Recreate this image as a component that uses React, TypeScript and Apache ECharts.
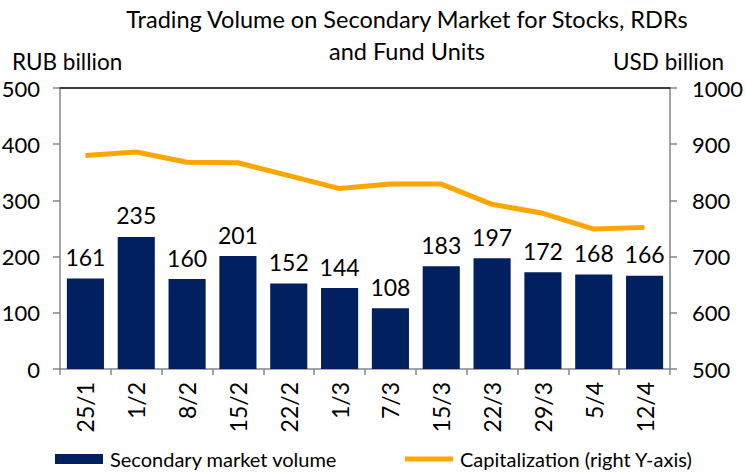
import React, { useEffect, useRef } from "react";
import * as echarts from "echarts";

const categories = ["25/1", "1/2", "8/2", "15/2", "22/2", "1/3", "7/3", "15/3", "22/3", "29/3", "5/4", "12/4"];
const volume = [161, 235, 160, 201, 152, 144, 108, 183, 197, 172, 168, 166];
const capitalization = [880, 886, 868, 867, 844, 821, 829, 829, 793, 777, 749, 752];
const titleText = "Trading Volume on Secondary Market for Stocks, RDRs\nand Fund Units";
const leftUnit = "RUB billion";
const rightUnit = "USD billion";
const volumeName = "Secondary market volume";
const capName = "Capitalization (right Y-axis)";

const FONT = "Lato, 'Open Sans', sans-serif";
const NAVY = "#002060";
const ORANGE = "#FFA500";
const AXIS = "#868686";
const FS = 23;
const AXFS = 22;

export default function App() {
  const ref = useRef<HTMLDivElement>(null);
  useEffect(() => {
    if (!ref.current) return;
    const chart = echarts.init(ref.current, undefined, { renderer: "svg" });
    chart.setOption({
      animation: false,
      backgroundColor: "#ffffff",
      textStyle: { fontFamily: FONT, color: "#000" },
      title: {
        text: titleText,
        left: 407,
        top: 3,
        padding: 0,
        textAlign: "center",
        textStyle: { fontFamily: FONT, fontSize: 23.5, fontWeight: "normal", color: "#000", lineHeight: 32 },
      },
      graphic: [
        { type: "text", left: 12, top: 50, style: { text: leftUnit, fontFamily: FONT, fontSize: 22.5, fill: "#000" } },
        { type: "text", left: 613, top: 50, style: { text: rightUnit, fontFamily: FONT, fontSize: 22.5, fill: "#000" } },
      ],
      legend: [
        {
          data: [{ name: volumeName, icon: "rect" }],
          left: 55,
          top: 449,
          padding: 0,
          itemWidth: 48,
          itemHeight: 10,
          textStyle: { fontFamily: FONT, fontSize: 20, color: "#000", padding: [0, 0, 0, 2] },
        },
        {
          data: [{ name: capName, icon: "rect" }],
          left: 405,
          top: 449,
          padding: 0,
          itemWidth: 48,
          itemHeight: 5,
          textStyle: { fontFamily: FONT, fontSize: 20, color: "#000", padding: [0, 0, 0, 2] },
        },
      ],
      grid: { left: 60, right: 76, top: 88, bottom: 105, containLabel: false, outerBoundsMode: "none" },
      xAxis: [
        {
          type: "category",
          data: categories,
          axisLine: { lineStyle: { color: AXIS, width: 1.5 } },
          axisTick: { show: true, length: 6, lineStyle: { color: AXIS, width: 1.5 } },
          axisLabel: { rotate: 90, fontFamily: FONT, fontSize: FS, color: "#000", margin: 13 },
        },
        {
          type: "category",
          data: categories,
          position: "top",
          axisLine: { lineStyle: { color: "#000", width: 1.5 } },
          axisTick: { show: false },
          axisLabel: { show: false },
        },
      ],
      yAxis: [
        {
          type: "value",
          min: 0,
          max: 500,
          interval: 100,
          splitLine: { show: false },
          axisLine: { show: true, lineStyle: { color: AXIS, width: 1.5 } },
          axisTick: { show: true, length: 7, lineStyle: { color: AXIS, width: 1.5 } },
          axisLabel: { fontFamily: FONT, fontSize: AXFS, color: "#000", margin: 20, formatter: (v: number) => String(v) },
        },
        {
          type: "value",
          min: 500,
          max: 1000,
          interval: 100,
          position: "right",
          splitLine: { show: false },
          axisLine: { show: true, lineStyle: { color: AXIS, width: 1.5 } },
          axisTick: { show: true, length: 7, lineStyle: { color: AXIS, width: 1.5 } },
          axisLabel: { fontFamily: FONT, fontSize: AXFS, color: "#000", margin: 22, formatter: (v: number) => String(v) },
        },
      ],
      series: [
        {
          name: volumeName,
          type: "bar",
          data: volume,
          xAxisIndex: 0,
          yAxisIndex: 0,
          barCategoryGap: "27%",
          itemStyle: { color: NAVY },
          label: { show: true, position: "top", distance: 10, fontFamily: FONT, fontSize: FS, color: "#000" },
        },
        {
          name: capName,
          type: "line",
          data: capitalization,
          xAxisIndex: 0,
          yAxisIndex: 1,
          symbol: "none",
          showSymbol: false,
          lineStyle: { color: ORANGE, width: 5 },
          itemStyle: { color: ORANGE },
        },
      ],
    });
    return () => chart.dispose();
  }, []);
  return <div ref={ref} style={{ width: 746, height: 474, position: "absolute", left: 0, top: 0 }} />;
}
